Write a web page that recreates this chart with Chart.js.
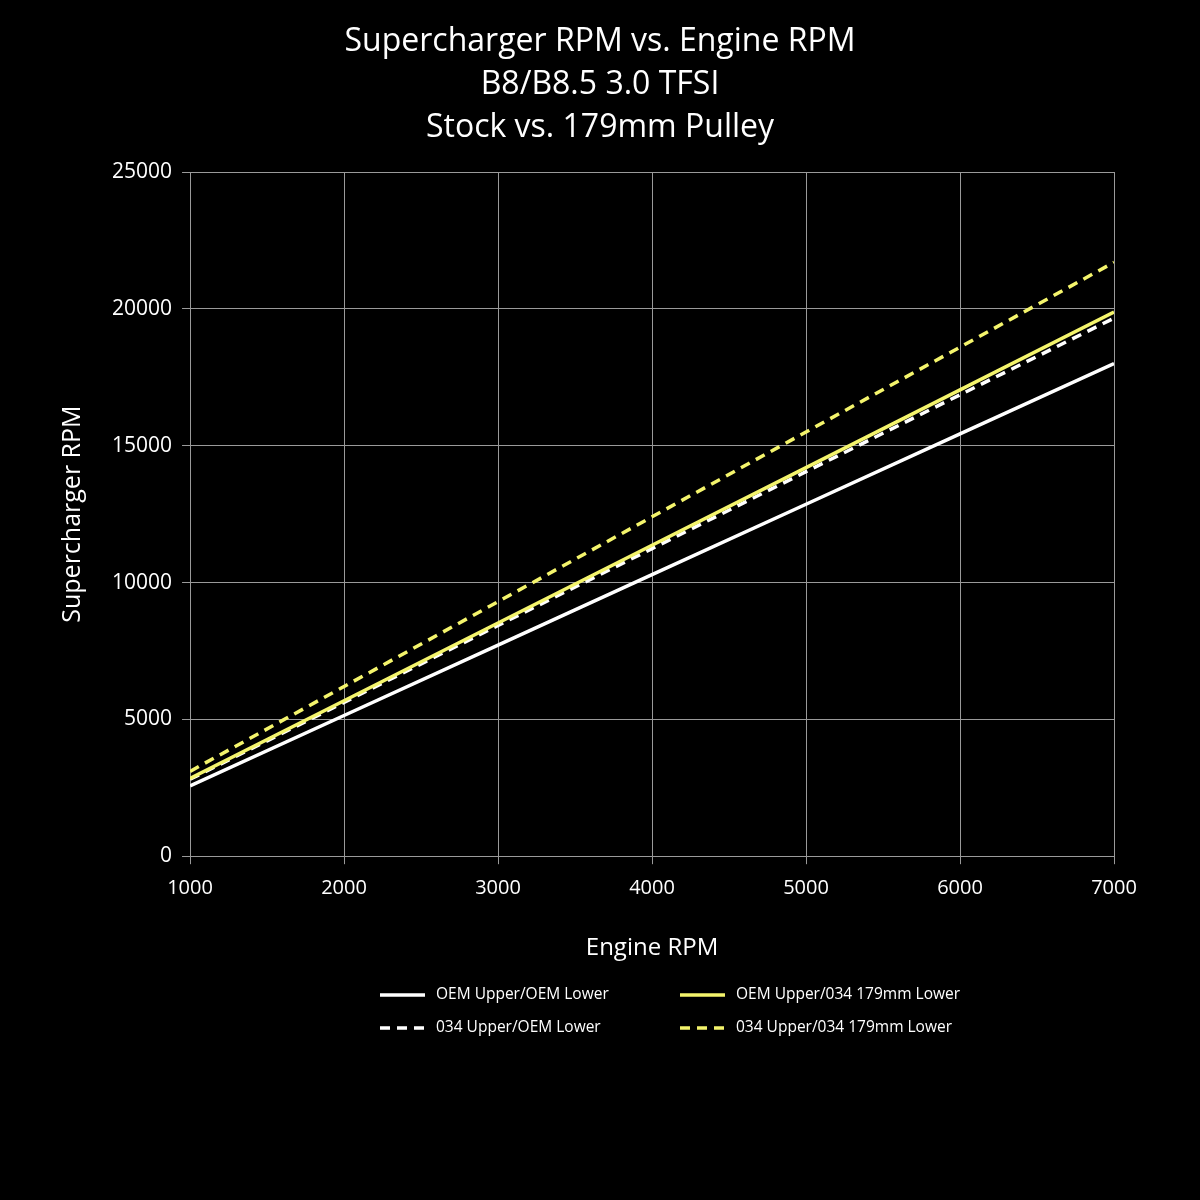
<!DOCTYPE html>
<html>
<head>
<meta charset="utf-8">
<script src="https://cdn.jsdelivr.net/npm/chart.js@4.4.0/dist/chart.umd.min.js"></script>
<style>
  html, body { margin: 0; padding: 0; background: #000; }
  #wrap { width: 1200px; height: 1200px; }
</style>
</head>
<body>
<div id="wrap"><canvas id="rpmChart" width="1200" height="1200"></canvas></div>
<script>
// данные
const engineRpm = [1000, 2000, 3000, 4000, 5000, 6000, 7000];
const oemOem = [2570, 5140, 7710, 10290, 12860, 15430, 18000];
const oem034 = [2840, 5680, 8520, 11360, 14200, 17040, 19880];
const up034Oem = [2810, 5620, 8430, 11240, 14050, 16860, 19660];
const up034Lo034 = [3100, 6200, 9300, 12400, 15500, 18600, 21700];
const seriesNames = ['OEM Upper/OEM Lower', 'OEM Upper/034 179mm Lower', '034 Upper/OEM Lower', '034 Upper/034 179mm Lower'];
const titleLines = ['Supercharger RPM vs. Engine RPM', 'B8/B8.5 3.0 TFSI', 'Stock vs. 179mm Pulley'];

const WHITE = '#ffffff';
const YELLOW = '#f4f46c';
const GRID = '#9a9a9a';
const FONT = "'Open Sans', sans-serif";

function toPoints(arr) {
    return arr.map((v, i) => ({ x: engineRpm[i], y: v }));
}

function makeSet(label, values, color, dash) {
    return {
        label: label,
        data: toPoints(values),
        borderColor: color,
        backgroundColor: color,
        borderWidth: 3.5,
        borderDash: dash,
        pointRadius: 0,
        tension: 0,
        fill: false
    };
}

// заголовок по центру всего холста
const centerTitle = {
    id: 'centerTitle',
    afterDraw(chart) {
        const ctx = chart.ctx;
        ctx.save();
        ctx.font = "32px " + FONT;
        ctx.fillStyle = WHITE;
        ctx.textAlign = 'center';
        ctx.textBaseline = 'middle';
        titleLines.forEach((t, i) => ctx.fillText(t, chart.width / 2, 42 + i * 43));
        ctx.restore();
    }
};

// легенда 2x2 под графиком
const gridLegend = {
    id: 'gridLegend',
    afterDraw(chart) {
        const ctx = chart.ctx;
        const cells = [
            { x: 380, y: 995 }, { x: 680, y: 995 },
            { x: 380, y: 1028 }, { x: 680, y: 1028 }
        ];
        ctx.save();
        ctx.font = "15.5px " + FONT;
        ctx.textBaseline = 'middle';
        chart.data.datasets.forEach((ds, i) => {
            const c = cells[i];
            ctx.strokeStyle = ds.borderColor;
            ctx.lineWidth = 3.5;
            ctx.setLineDash(ds.borderDash || []);
            ctx.beginPath();
            ctx.moveTo(c.x, c.y);
            ctx.lineTo(c.x + 45, c.y);
            ctx.stroke();
            ctx.setLineDash([]);
            ctx.fillStyle = WHITE;
            ctx.fillText(ds.label, c.x + 56, c.y);
        });
        ctx.restore();
    }
};

const chart = new Chart(document.getElementById('rpmChart').getContext('2d'), {
    type: 'line',
    data: {
        datasets: [
            makeSet(seriesNames[0], oemOem, WHITE, []),
            makeSet(seriesNames[1], oem034, YELLOW, []),
            makeSet(seriesNames[2], up034Oem, WHITE, [10, 7]),
            makeSet(seriesNames[3], up034Lo034, YELLOW, [10, 7])
        ]
    },
    options: {
        responsive: false,
        animation: false,
        maintainAspectRatio: false,
        layout: {
            padding: { left: 54, right: 86, top: 172, bottom: 233 }
        },
        scales: {
            x: {
                type: 'linear',
                min: 1000,
                max: 7000,
                ticks: {
                    stepSize: 1000,
                    color: WHITE,
                    font: { family: FONT, size: 20 },
                    padding: 12,
                    maxRotation: 0,
                    callback: v => String(v)
                },
                grid: { color: GRID, lineWidth: 1, tickLength: 8 },
                border: { color: GRID },
                title: {
                    display: true,
                    text: 'Engine RPM',
                    color: WHITE,
                    font: { family: FONT, size: 24 },
                    padding: { top: 22 }
                }
            },
            y: {
                type: 'linear',
                min: 0,
                max: 25000,
                ticks: {
                    stepSize: 5000,
                    color: WHITE,
                    font: { family: FONT, size: 21 },
                    padding: 10,
                    callback: v => String(v)
                },
                grid: { color: GRID, lineWidth: 1, tickLength: 8 },
                border: { color: GRID },
                title: {
                    display: true,
                    text: 'Supercharger RPM',
                    color: WHITE,
                    font: { family: FONT, size: 25 },
                    padding: { bottom: 14 }
                }
            }
        },
        plugins: {
            legend: { display: false },
            tooltip: { enabled: false },
            title: { display: false }
        }
    },
    plugins: [centerTitle, gridLegend, {
        id: 'bg',
        beforeDraw(c) {
            c.ctx.save();
            c.ctx.fillStyle = '#000';
            c.ctx.fillRect(0, 0, c.width, c.height);
            c.ctx.restore();
        }
    }]
});
</script>
</body>
</html>
